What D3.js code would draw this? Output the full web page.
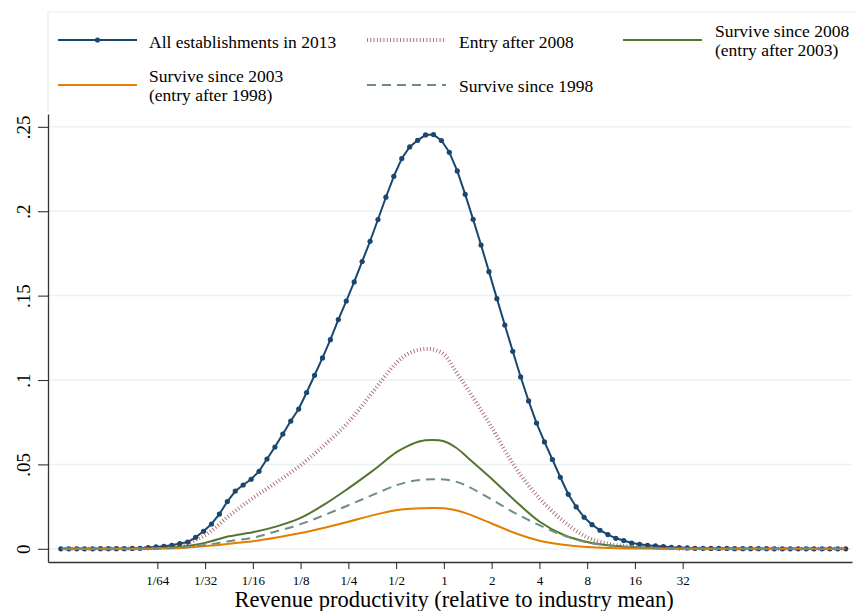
<!DOCTYPE html>
<html>
<head>
<meta charset="utf-8">
<script src="https://cdn.jsdelivr.net/npm/d3@7/dist/d3.min.js"></script>
<style>
  html, body { margin: 0; padding: 0; background: #fff; }
  svg { display: block; }
  text { font-family: "Liberation Serif", "Times New Roman", "DejaVu Serif", serif; fill: #000; }
</style>
</head>
<body>
<svg id="chart" width="857" height="611"></svg>
<script>
// Kernel density of log2 revenue productivity (relative to industry mean), by cohort.

// Evaluation grid (log2 units) of the full-sample density: 100 points.
const gridStart = -8.02;
const gridStep = 0.166;
const gridCount = 100;

// All establishments in 2013, one value per grid point.
const allEstablishments = [
  0, 0, 0, 0, 0, 0.0001, 0.0001, 0.0001, 0.0001, 0.0002,
  0.0003, 0.0007, 0.0011, 0.0015, 0.0021, 0.0031, 0.0040, 0.0068, 0.0104, 0.0147,
  0.0206, 0.0280, 0.0342, 0.0378, 0.0412, 0.0459, 0.0532, 0.0603, 0.0680, 0.0757,
  0.0828, 0.0926, 0.1028, 0.1131, 0.1239, 0.1358, 0.1468, 0.1581, 0.1702, 0.1822,
  0.1951, 0.2083, 0.2207, 0.2312, 0.2381, 0.2420, 0.2452, 0.2454, 0.2419, 0.2349,
  0.2239, 0.2100, 0.1952, 0.1800, 0.1642, 0.1482, 0.1326, 0.1170, 0.1018, 0.0876,
  0.0745, 0.0633, 0.0529, 0.0424, 0.0323, 0.0248, 0.0187, 0.0143, 0.0110, 0.0084,
  0.0062, 0.0049, 0.0034, 0.0027, 0.0021, 0.0017, 0.0013, 0.0009, 0.0007, 0.0005,
  0.0003, 0.0003, 0.0002, 0.0002, 0.0002, 0.0001, 0.0001, 0.0001, 0.0001, 0.0001,
  0, 0, 0, 0, 0, 0, 0, 0, 0, 0
];

// Points (log2 units) at which the cohort densities are given.
const cohortGrid = [
  -8, -7.5, -7, -6.5, -6, -5.5, -5, -4.5, -4, -3.5, -3, -2.5, -2, -1.5, -1, -0.75,
  -0.5, -0.25, 0, 0.25, 0.5, 1, 1.5, 2, 2.5, 3, 3.5, 4, 4.5, 5, 5.5, 6, 6.5, 7, 7.5, 8, 8.4
];
const entryAfter2008 = [
  0, 0, 0.0001, 0.0002, 0.0006, 0.0022, 0.0080, 0.0195, 0.0300, 0.0395, 0.0495, 0.0615,
  0.0750, 0.0925, 0.1100, 0.1155, 0.1180, 0.1182, 0.1152, 0.1050, 0.0945, 0.0720, 0.0480,
  0.0300, 0.0165, 0.0068, 0.0027, 0.0011, 0.0005, 0.0002, 0.0001, 0, 0, 0, 0, 0, 0
];
const surviveSince2008 = [
  0, 0, 0, 0.0001, 0.0004, 0.0012, 0.0035, 0.0074, 0.0098, 0.0133, 0.0183, 0.0263,
  0.0358, 0.0460, 0.0571, 0.0610, 0.0637, 0.0644, 0.0637, 0.0600, 0.0540, 0.0415, 0.0282,
  0.0162, 0.0083, 0.0040, 0.0019, 0.0009, 0.0004, 0.0002, 0.0001, 0, 0, 0, 0, 0, 0
];
const surviveSince2003 = [
  0, 0, 0, 0, 0.0001, 0.0005, 0.0016, 0.0030, 0.0045, 0.0067, 0.0093, 0.0125,
  0.0160, 0.0198, 0.0228, 0.0236, 0.0240, 0.0242, 0.0240, 0.0228, 0.0207, 0.0150, 0.0092,
  0.0048, 0.0024, 0.0011, 0.0005, 0.0002, 0.0001, 0, 0, 0, 0, 0, 0, 0, 0
];
const surviveSince1998 = [
  0, 0, 0, 0, 0.0002, 0.0008, 0.0022, 0.0045, 0.0066, 0.0104, 0.0146, 0.0200,
  0.0258, 0.0318, 0.0376, 0.0396, 0.0408, 0.0412, 0.0411, 0.0398, 0.0370, 0.0292, 0.0210,
  0.0140, 0.0080, 0.0038, 0.0018, 0.0008, 0.0004, 0.0002, 0.0001, 0, 0, 0, 0, 0, 0
];

// Axis ticks.
const xTickValues = [-6, -5, -4, -3, -2, -1, 0, 1, 2, 3, 4, 5];
const xTickLabels = ["1/64", "1/32", "1/16", "1/8", "1/4", "1/2", "1", "2", "4", "8", "16", "32"];
const yTickValues = [0, 0.05, 0.1, 0.15, 0.2, 0.25];
const yTickLabels = ["0", ".05", ".1", ".15", ".2", ".25"];

const xTitle = "Revenue productivity (relative to industry mean)";

// ---- layout ----
const svg = d3.select("#chart");
const plot = { left: 48, right: 852, top: 114, bottom: 562 };

const x = d3.scaleLinear().domain([-8.289, 8.545]).range([plot.left, plot.right]);
const y = d3.scaleLinear().domain([-0.00782, 0.2576]).range([plot.bottom, plot.top]);

const colors = {
  navy: "#1a476f",
  maroon: "#90353b",
  green: "#55752f",
  orange: "#e37e00",
  teal: "#6e8e84"
};

// Horizontal grid lines
svg.append("g")
  .selectAll("line")
  .data(yTickValues)
  .join("line")
  .attr("x1", plot.left).attr("x2", plot.right)
  .attr("y1", d => y(d)).attr("y2", d => y(d))
  .attr("stroke", "#eaf2f3")
  .attr("stroke-width", 1.5);

// Legend frame
svg.append("path")
  .attr("d", `M${plot.left},112 V12 H857`)
  .attr("fill", "none")
  .attr("stroke", "#e8eff1")
  .attr("stroke-width", 1.2);

// Y axis
const yAxis = d3.axisLeft(y)
  .tickValues(yTickValues)
  .tickFormat((d, i) => yTickLabels[i])
  .tickSize(10)
  .tickSizeOuter(0);
const gy = svg.append("g").attr("transform", `translate(${plot.left},0)`).call(yAxis);
gy.select(".domain").attr("stroke", "#333").attr("stroke-width", 1.3);
gy.selectAll(".tick line").attr("stroke", "#333").attr("stroke-width", 1.1);
gy.selectAll(".tick text")
  .attr("font-size", 19)
  .attr("font-family", "Liberation Serif, serif")
  .attr("text-anchor", "middle")
  .attr("x", 0).attr("y", 0).attr("dy", 0)
  .attr("transform", "translate(-18,0) rotate(-90)");

// X axis
const xAxis = d3.axisBottom(x)
  .tickValues(xTickValues)
  .tickFormat((d, i) => xTickLabels[i])
  .tickSize(7)
  .tickSizeOuter(0);
const gx = svg.append("g").attr("transform", `translate(0,${plot.bottom})`).call(xAxis);
gx.select(".domain").attr("stroke", "#333").attr("stroke-width", 1.3);
gx.selectAll(".tick line").attr("stroke", "#333").attr("stroke-width", 1.1);
gx.selectAll(".tick text")
  .attr("font-size", 13)
  .attr("font-family", "Liberation Serif, serif")
  .attr("y", 23).attr("dy", 0);

svg.append("text")
  .attr("x", 454).attr("y", 606.5)
  .attr("text-anchor", "middle")
  .attr("font-size", 22.5)
  .text(xTitle);

// ---- series ----
const gridX = d3.range(gridCount).map(i => gridStart + i * gridStep);
const allPts = allEstablishments.map((v, i) => [gridX[i], v]);
const cohortPts = arr => arr.map((v, i) => [cohortGrid[i], v]);

const lineLinear = d3.line().x(d => x(d[0])).y(d => y(d[1])).curve(d3.curveLinear);
const lineSmooth = d3.line().x(d => x(d[0])).y(d => y(d[1])).curve(d3.curveCatmullRom.alpha(0.5));

const series = [
  { name: "all", pts: allPts, line: lineLinear, color: colors.navy, width: 2, dash: null },
  { name: "entry2008", pts: cohortPts(entryAfter2008), line: lineSmooth, color: colors.maroon, width: 4, dash: "0.9 2.4", opacity: 0.75 },
  { name: "surv2008", pts: cohortPts(surviveSince2008), line: lineSmooth, color: colors.green, width: 2, dash: null },
  { name: "surv2003", pts: cohortPts(surviveSince2003), line: lineSmooth, color: colors.orange, width: 2, dash: null },
  { name: "surv1998", pts: cohortPts(surviveSince1998), line: lineSmooth, color: colors.teal, width: 2, dash: "9 6" }
];

series.forEach(s => {
  svg.append("path")
    .datum(s.pts)
    .attr("d", s.line)
    .attr("fill", "none")
    .attr("stroke", s.color)
    .attr("stroke-width", s.width)
    .attr("stroke-opacity", s.opacity || 1)
    .attr("stroke-dasharray", s.dash)
    .attr("stroke-linejoin", "round");
  if (s.name === "all") {
    svg.append("g")
      .selectAll("circle")
      .data(s.pts)
      .join("circle")
      .attr("cx", d => x(d[0]))
      .attr("cy", d => y(d[1]))
      .attr("r", 2.6)
      .attr("fill", colors.navy);
  }
});

// ---- legend ----
const legendItems = [
  { x0: 58, y0: 40, color: colors.navy, width: 2, dash: null, marker: true,
    lines: ["All establishments in 2013"], tx: 149, ty: [47.5] },
  { x0: 367, y0: 40, color: colors.maroon, width: 4, dash: "0.9 2.4", opacity: 0.75,
    lines: ["Entry after 2008"], tx: 459, ty: [47.5] },
  { x0: 623, y0: 40, color: colors.green, width: 2, dash: null,
    lines: ["Survive since 2008", "(entry after 2003)"], tx: 715, ty: [36.5, 55.5] },
  { x0: 58, y0: 85, color: colors.orange, width: 2, dash: null,
    lines: ["Survive since 2003", "(entry after 1998)"], tx: 149, ty: [81.5, 100.5] },
  { x0: 367, y0: 85, color: colors.teal, width: 2, dash: "9 6",
    lines: ["Survive since 1998"], tx: 459, ty: [91.5] }
];

const legend = svg.append("g");
legendItems.forEach(it => {
  legend.append("line")
    .attr("x1", it.x0).attr("x2", it.x0 + 79)
    .attr("y1", it.y0).attr("y2", it.y0)
    .attr("stroke", it.color)
    .attr("stroke-width", it.width)
    .attr("stroke-opacity", it.opacity || 1)
    .attr("stroke-dasharray", it.dash);
  if (it.marker) {
    legend.append("circle")
      .attr("cx", it.x0 + 39.5).attr("cy", it.y0).attr("r", 2.6)
      .attr("fill", it.color);
  }
  it.lines.forEach((t, k) => {
    legend.append("text")
      .attr("x", it.tx).attr("y", it.ty[k])
      .attr("font-size", 17.5)
      .text(t);
  });
});
</script>
</body>
</html>
